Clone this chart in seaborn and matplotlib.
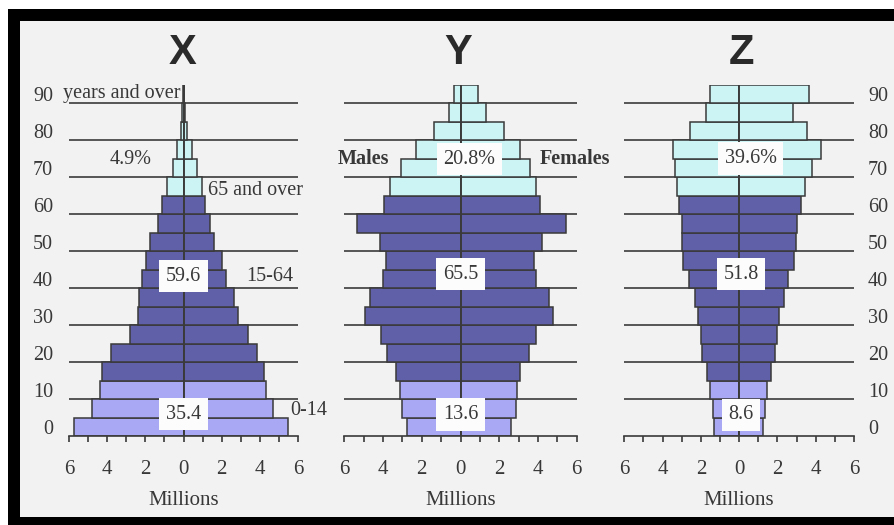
import numpy as np
import pandas as pd
import matplotlib.pyplot as plt
import seaborn as sns
from matplotlib.patches import Rectangle

# age groups: 0-4, 5-9, ... 85-89, 90+
age_start = list(range(0, 95, 5))
age_mid = [a + 2.5 for a in age_start]
bracket = ["0-14"] * 3 + ["15-64"] * 10 + ["65+"] * 6
age_ticks = [str(a) for a in range(0, 100, 10)]

# millions
x_males = [5.74, 4.82, 4.38, 4.29, 3.82, 2.81, 2.37, 2.34, 2.20, 1.95,
           1.73, 1.34, 1.12, 0.85, 0.56, 0.33, 0.15, 0.06, 0.03]
x_females = [5.46, 4.70, 4.33, 4.24, 3.86, 3.40, 2.86, 2.63, 2.25, 2.03,
             1.62, 1.41, 1.15, 0.95, 0.72, 0.42, 0.20, 0.07, 0.03]
y_males = [2.78, 3.04, 3.13, 3.33, 3.80, 4.09, 4.91, 4.67, 4.00, 3.85,
           4.16, 5.36, 3.93, 3.64, 3.08, 2.32, 1.37, 0.60, 0.33]
y_females = [2.63, 2.85, 2.94, 3.08, 3.54, 3.92, 4.78, 4.57, 3.92, 3.80,
             4.23, 5.43, 4.12, 3.88, 3.57, 3.09, 2.25, 1.34, 0.89]
z_males = [1.31, 1.36, 1.52, 1.66, 1.92, 2.00, 2.14, 2.30, 2.61, 2.91,
           2.96, 2.96, 3.14, 3.26, 3.36, 3.48, 2.58, 1.74, 1.52]
z_females = [1.25, 1.34, 1.48, 1.66, 1.86, 2.00, 2.09, 2.32, 2.56, 2.84,
             2.96, 3.01, 3.22, 3.43, 3.80, 4.30, 3.57, 2.82, 3.66]

# share labels per panel
x_shares = ["35.4", "59.6", "4.9%"]
y_shares = ["13.6", "65.5", "20.8%"]
z_shares = ["8.6", "51.8", "39.6%"]

sns.set_theme(style="white")
plt.rcParams['font.family'] = ['Liberation Serif', 'DejaVu Serif']

palette = {"0-14": "#a8a8f4", "15-64": "#6060a8", "65+": "#cdf4f4"}
ink = "#383838"
edge = "#3a3a3a"
fs = 14.5
W, H = 894, 525

fig = plt.figure(figsize=(W / 100, H / 100), dpi=100, facecolor="white")
fig.patches.append(Rectangle((8 / W, 0), 1, (H - 9) / H, transform=fig.transFigure,
                             facecolor="black", edgecolor="none", zorder=-10))
fig.patches.append(Rectangle((20 / W, 8 / H), 1, (517 - 21) / H, transform=fig.transFigure,
                             facecolor="#f2f2f2", edgecolor="none", zorder=-9))


def make_ax(left, right, top=84.5, bottom=436):
    return fig.add_axes([left / W, (H - bottom) / H, (right - left) / W, (bottom - top) / H])


def pyramid(ax, males, females):
    for vals, sign in ((males, -1), (females, 1)):
        d = pd.DataFrame({"age": age_mid, "value": sign * np.array(vals), "group": bracket})
        sns.barplot(data=d, x="value", y="age", hue="group", palette=palette, orient="h",
                    native_scale=True, dodge=False, width=1, errorbar=None, legend=False,
                    saturation=1, edgecolor=edge, linewidth=1.1, ax=ax, zorder=2)
    ax.hlines(range(10, 100, 10), -6, 6, color="#555555", lw=1.4, zorder=1)
    ax.axvline(0, color=edge, lw=1.2, zorder=3)
    ax.set_xlim(-6, 6)
    ax.set_ylim(0, 95)
    ax.set_facecolor("none")
    for s in ("left", "right", "top"):
        ax.spines[s].set_visible(False)
    ax.spines["bottom"].set_color(edge)
    ax.spines["bottom"].set_linewidth(1.2)
    ax.set_xticks(range(-6, 7, 2))
    ax.set_xticklabels([str(abs(v)) for v in range(-6, 7, 2)])
    ax.set_xticks(range(-5, 6, 2), minor=True)
    ax.tick_params(axis="x", which="both", bottom=True, direction="out", length=4.5,
                   width=1.2, color=edge, pad=13, labelsize=15, labelcolor=ink)
    ax.set_yticks([])
    ax.set_xlabel("")
    ax.set_ylabel("")
    ax.text(0.5, -0.184, "Millions", transform=ax.transAxes, ha="center", va="center",
            fontsize=15, color=ink)


def boxed(ax, x, y, s):
    ax.text(x, y, s, ha="center", va="center", fontsize=fs, color=ink, zorder=5,
            bbox=dict(boxstyle="square,pad=0.33", facecolor="#fcfcfc", edgecolor="none"))


ax1 = make_ax(69, 298)
ax2 = make_ax(344.3, 576.7)
ax3 = make_ax(624.3, 854)

pyramid(ax1, x_males, x_females)
pyramid(ax2, y_males, y_females)
pyramid(ax3, z_males, z_females)

# age labels
ax1.set_yticks(age_mid[::2])
ax1.set_yticklabels(age_ticks)
ax1.tick_params(axis="y", length=0, pad=11.5, labelsize=fs, labelcolor=ink)
ax3.yaxis.tick_right()
ax3.set_yticks(age_mid[::2])
ax3.set_yticklabels(age_ticks)
ax3.tick_params(axis="y", length=0, pad=10, labelsize=fs, labelcolor=ink)

# X annotations
ax1.text(-6.3, 92.6, "years and over", ha="left", va="center", fontsize=fs, color=ink)
ax1.text(-2.78, 74.7, x_shares[2], ha="center", va="center", fontsize=fs, color=ink)
ax1.text(1.31, 66.3, "65 and over", ha="left", va="center", fontsize=fs, color=ink)
ax1.text(3.29, 43.2, "15-64", ha="left", va="center", fontsize=fs, color=ink, clip_on=False)
ax1.text(5.58, 7.0, "0-14", ha="left", va="center", fontsize=fs, color=ink, clip_on=False)
boxed(ax1, 0, 43.2, x_shares[1])
boxed(ax1, 0, 5.9, x_shares[0])

# Y annotations
ax2.text(-5.02, 75, "Males", ha="center", va="center", fontsize=fs, color=ink,
         fontweight="bold", zorder=5)
ax2.text(5.89, 75, "Females", ha="center", va="center", fontsize=fs, color=ink,
         fontweight="bold", zorder=5)
boxed(ax2, 0.45, 74.8, y_shares[2])
boxed(ax2, 0.0, 43.7, y_shares[1])
boxed(ax2, 0.0, 5.8, y_shares[0])

# Z annotations
boxed(ax3, 0.6, 75, z_shares[2])
boxed(ax3, 0.1, 43.7, z_shares[1])
boxed(ax3, 0.09, 5.7, z_shares[0])

for cx, t in ((183, "X"), (458, "Y"), (742, "Z")):
    fig.text(cx / W, (H - 53) / H, t, ha="center", va="center", fontsize=30,
             fontweight="bold", color="#2a2a2a", family=["Liberation Sans", "DejaVu Sans"])

fig.savefig("out.png", dpi=100, facecolor=fig.get_facecolor())
